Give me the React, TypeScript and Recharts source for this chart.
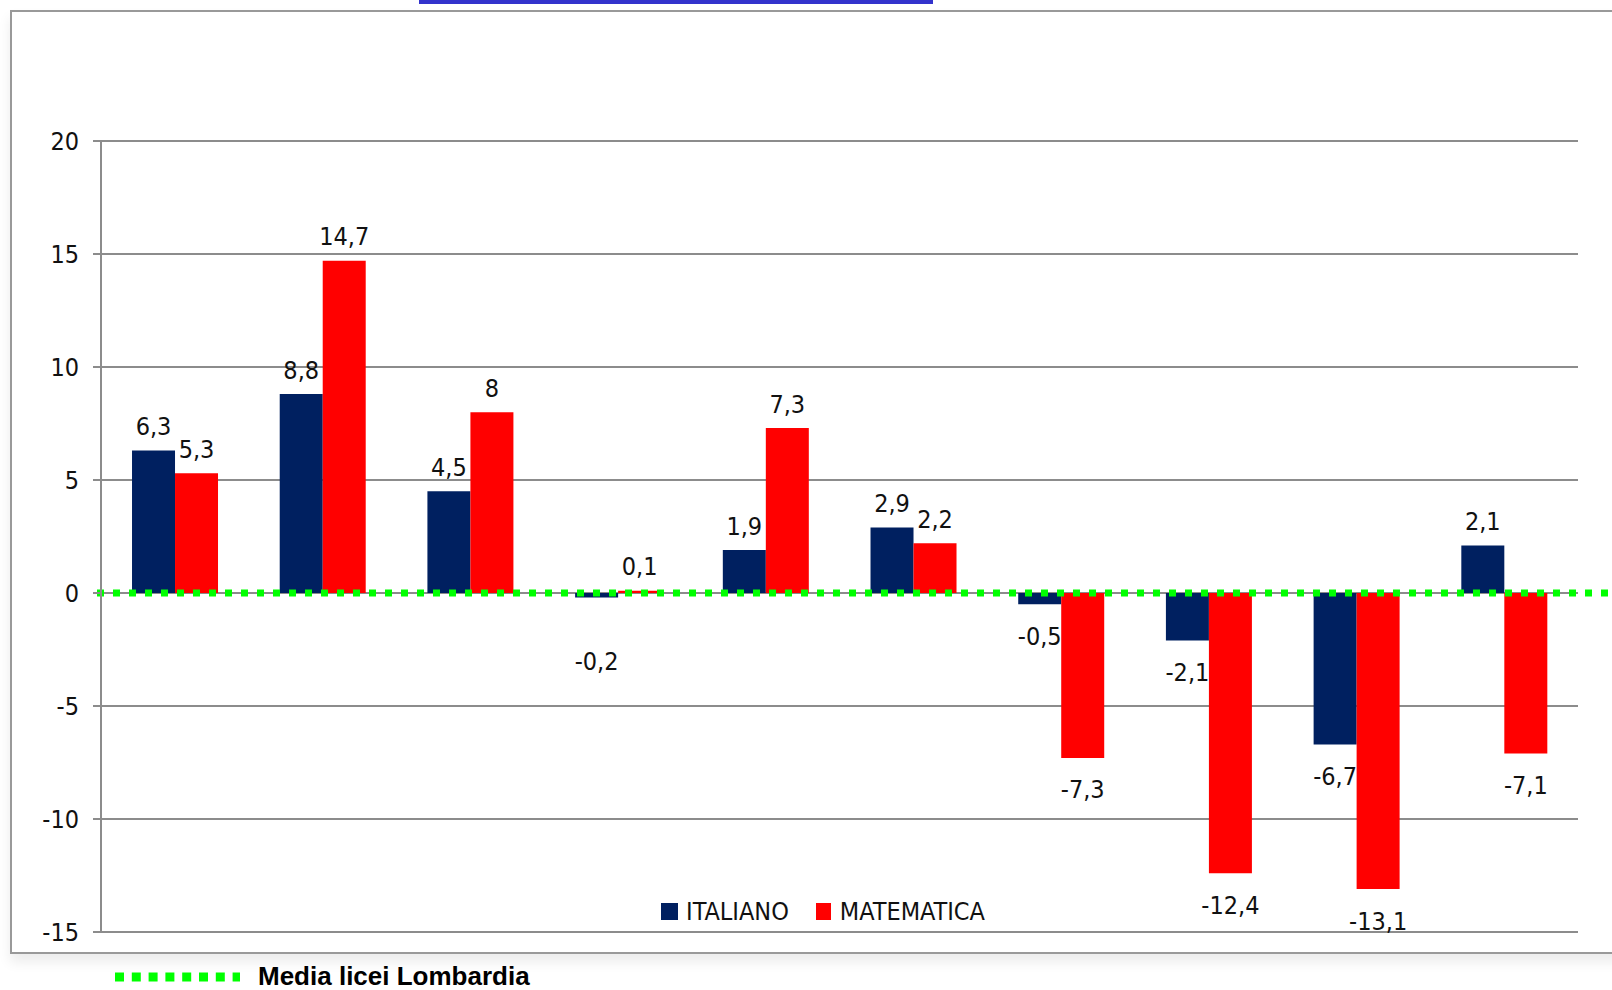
import React from 'react';
import { BarChart, Bar, XAxis, YAxis, CartesianGrid, ReferenceLine, Legend, LabelList } from 'recharts';

// values (Excel chart, comma as decimal separator)
const categories = ['1', '2', '3', '4', '5', '6', '7', '8', '9', '10'];
const italiano = [6.3, 8.8, 4.5, -0.2, 1.9, 2.9, -0.5, -2.1, -6.7, 2.1];
const matematica = [5.3, 14.7, 8, 0.1, 7.3, 2.2, -7.3, -12.4, -13.1, -7.1];
const yTicks = [-15, -10, -5, 0, 5, 10, 15, 20];
const mediaLabel = 'Media licei Lombardia';

const NAVY = '#002060';
const RED = '#ff0000';
const GREEN = '#00ff00';
const GRID = '#8c8c8c';
const FONT = '"Liberation Sans Narrow", "DejaVu Sans Condensed", Roboto, sans-serif';

const data = categories.map((c, i) => ({ name: c, ITALIANO: italiano[i], MATEMATICA: matematica[i] }));

const fmt = (v: number) => String(v).replace('.', ',');

// label above positive bars, below negative ones
const ValueLabel = (props: any) => {
    const { x, y, width, height, value } = props;
    const top = Math.min(y, y + height);
    const bottom = Math.max(y, y + height);
    const cx = x + width / 2;
    // Excel pushes the label of a very thin negative bar further down
    const extra = Math.abs(height) < 6 ? 32 : 0;
    const cy = value >= 0 ? top - 24 : bottom + 32 + extra;
    return (
        <text x={cx} y={cy} textAnchor="middle" dominantBaseline="central" fontFamily={FONT} fontSize={25} fill="#111">
            {fmt(value)}
        </text>
    );
};

const GreenLine = (props: any) => {
    const { x1, x2, y1 } = props;
    return <line x1={x1 - 4} x2={x2 + 40} y1={y1} y2={y1} stroke={GREEN} strokeWidth={7} strokeDasharray="7 9" />;
};

const renderLegend = () => (
    <div style={{ display: 'flex', alignItems: 'center', fontFamily: FONT, fontSize: 25, color: '#111' }}>
        <span style={{ width: 17, height: 17, background: NAVY, display: 'inline-block', marginRight: 8 }} />
        <span style={{ marginRight: 27 }}>ITALIANO</span>
        <span style={{ width: 15, height: 17, background: RED, display: 'inline-block', marginRight: 9 }} />
        <span>MATEMATICA</span>
    </div>
);

const App: React.FC = () => {
    return (
        <div style={{ position: 'absolute', left: 0, top: 0, width: 1612, height: 990, background: '#fff', overflow: 'hidden' }}>
            {/* frame and title strip */}
            <div style={{ position: 'absolute', left: 0, top: 0, width: 1612, height: 990, pointerEvents: 'none' }}>
                <div
                    style={{
                        position: 'absolute',
                        left: 10,
                        top: 10,
                        width: 1700,
                        height: 940,
                        borderLeft: '2px solid #999',
                        borderTop: '2px solid #999',
                        borderBottom: '2px solid #999',
                        boxShadow: '0 8px 12px rgba(0,0,0,0.08)',
                    }}
                />
            </div>
            <BarChart
                width={1612}
                height={990}
                data={data}
                margin={{ top: 141, right: 34, bottom: 58, left: 11 }}
                barCategoryGap="21%"
                barGap={0}
                style={{ position: 'absolute', left: 0, top: 0 }}
            >
                <CartesianGrid vertical={false} stroke={GRID} strokeWidth={2} />
                <XAxis dataKey="name" hide />
                <YAxis
                    domain={[-15, 20]}
                    ticks={yTicks}
                    width={90}
                    interval={0}
                    stroke={GRID}
                    strokeWidth={2}
                    tickSize={8}
                    tickMargin={14}
                    tick={{ fontFamily: FONT, fontSize: 25, fill: '#111' }}
                />
                <Bar dataKey="ITALIANO" fill={NAVY} isAnimationActive={false}>
                    <LabelList dataKey="ITALIANO" content={ValueLabel} />
                </Bar>
                <Bar dataKey="MATEMATICA" fill={RED} isAnimationActive={false}>
                    <LabelList dataKey="MATEMATICA" content={ValueLabel} />
                </Bar>
                <ReferenceLine y={0} shape={GreenLine} ifOverflow="visible" />
                <Legend
                    content={renderLegend}
                    layout="horizontal"
                    verticalAlign="middle"
                    align="center"
                    wrapperStyle={{ position: 'absolute', left: 661, top: 897, width: 'auto' }}
                />
            </BarChart>
            <div style={{ position: 'absolute', left: 419, top: 0, width: 514, height: 4, background: '#3333cc' }} />
            <div style={{ position: 'absolute', left: 115, top: 961, display: 'flex', alignItems: 'center' }}>
                <svg width={125} height={30}>
                    <line x1={0} x2={125} y1={15} y2={15} stroke={GREEN} strokeWidth={9} strokeDasharray="9 7.8" />
                </svg>
                <span
                    style={{
                        marginLeft: 18,
                        fontFamily: '"Liberation Sans", Arial, sans-serif',
                        fontWeight: 700,
                        fontSize: 26,
                        color: '#000',
                    }}
                >
                    {mediaLabel}
                </span>
            </div>
        </div>
    );
};

export default App;
